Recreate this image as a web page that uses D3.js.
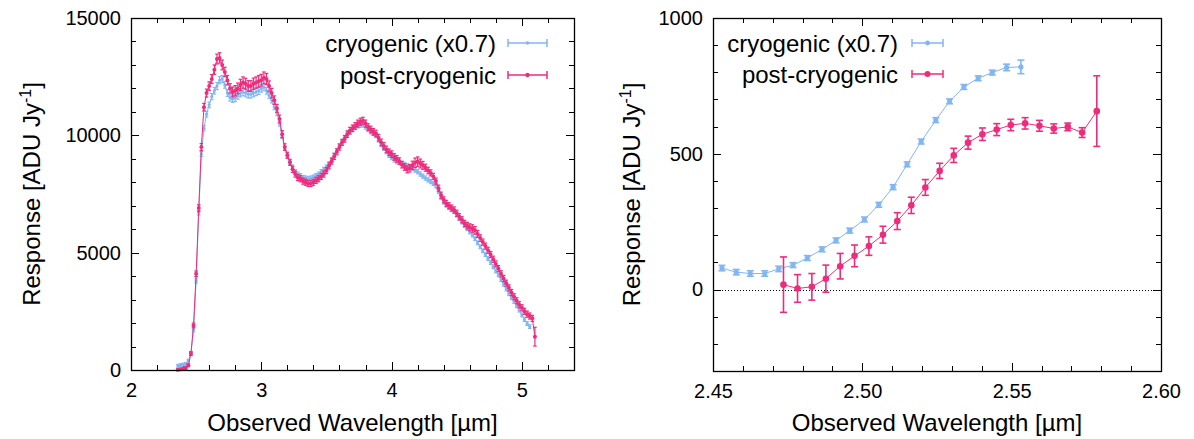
<!DOCTYPE html>
<html><head><meta charset="utf-8">
<script src="https://cdn.jsdelivr.net/npm/d3@7"></script>
<style>
html,body{margin:0;padding:0;background:#fff;}
svg{display:block;font-family:"Liberation Sans",Arial,Helvetica,sans-serif;}
</style></head>
<body>
<svg id="chart" width="1194" height="439"></svg>
<script>
// ---------------- DATA ----------------
const seriesNames = ["cryogenic (x0.7)", "post-cryogenic"];
const seriesColors = ["#82b6f2", "#ee2c7c"];

// Left panel: wavelength grid (µm)
const leftWavelength = [
 2.36,2.38,2.40,2.42,2.44,2.46,2.48,2.50,2.52,2.54,
 2.56,2.58,2.60,2.62,2.64,2.66,2.68,2.70,2.72,2.74,
 2.76,2.78,2.80,2.82,2.84,2.86,2.88,2.90,2.92,2.94,
 2.96,2.98,3.00,3.02,3.04,3.06,3.08,3.10,3.12,3.14,
 3.16,3.18,3.20,3.22,3.24,3.26,3.28,3.30,3.32,3.34,
 3.36,3.38,3.40,3.42,3.44,3.46,3.48,3.50,3.52,3.54,
 3.56,3.58,3.60,3.62,3.64,3.66,3.68,3.70,3.72,3.74,
 3.76,3.78,3.80,3.82,3.84,3.86,3.88,3.90,3.92,3.94,
 3.96,3.98,4.00,4.02,4.04,4.06,4.08,4.10,4.12,4.14,
 4.16,4.18,4.20,4.22,4.24,4.26,4.28,4.30,4.32,4.34,
 4.36,4.38,4.40,4.42,4.44,4.46,4.48,4.50,4.52,4.54,
 4.56,4.58,4.60,4.62,4.64,4.66,4.68,4.70,4.72,4.74,
 4.76,4.78,4.80,4.82,4.84,4.86,4.88,4.90,4.92,4.94,
 4.96,4.98,5.00,5.02,5.04,5.06,5.08,5.10
];
// cryogenic (x0.7), left panel (first 136 wavelengths)
const leftCryoResponse = [
 180,210,230,260,400,700,1700,3800,6700,9200,
 10300,10900,11300,11650,11900,12100,12350,12400,12150,11800,
 11600,11550,11600,11700,11800,11850,11800,11750,11750,11800,
 11850,11900,12000,12050,11900,11700,11500,11200,10950,10500,
 9950,9450,9150,8850,8650,8450,8350,8280,8200,8180,
 8150,8180,8220,8280,8350,8450,8550,8650,8780,8950,
 9150,9350,9550,9700,9850,10050,10150,10250,10330,10400,
 10430,10440,10350,10250,10150,10080,10000,9800,9600,9450,
 9300,9150,9050,8950,8880,8850,8800,8760,8700,8650,
 8600,8520,8450,8350,8260,8180,8100,8030,7950,7850,
 7600,7350,7150,7020,6920,6850,6750,6600,6450,6300,
 6150,6020,5880,5750,5600,5420,5250,5080,4920,4750,
 4580,4400,4220,4050,3850,3650,3450,3250,3080,2920,
 2740,2550,2350,2150,1980,1850
];
const leftCryoError = [
 60,60,60,60,60,70,80,90,100,100,
 110,120,120,130,140,150,150,150,140,140,
 140,150,160,160,160,160,160,160,160,160,
 160,160,160,150,140,130,120,110,100,100,
 90,90,90,90,90,90,90,90,90,90,
 90,90,90,90,90,90,90,90,90,90,
 90,90,90,90,90,90,90,90,90,90,
 90,90,90,90,90,90,90,90,90,90,
 90,90,90,90,90,90,90,90,90,90,
 90,90,90,90,90,90,90,90,90,90,
 80,80,80,80,80,80,80,80,80,80,
 80,80,80,80,80,80,80,80,80,80,
 80,80,80,80,80,80,80,80,80,80,
 80,80,80,80,80,80
];
// post-cryogenic, left panel (all 138 wavelengths)
const leftPostResponse = [
 10,30,55,80,200,700,1900,4100,6900,9500,
 11200,11800,12100,12400,12800,13250,13300,13000,12700,12350,
 12000,11850,11900,12000,12150,12250,12200,12100,12100,12200,
 12250,12300,12350,12450,12400,12100,11800,11500,11150,10700,
 10050,9500,9150,8850,8550,8350,8200,8150,8050,8000,
 7950,7950,8000,8080,8150,8250,8350,8500,8700,8900,
 9100,9300,9500,9700,9850,10050,10200,10300,10400,10500,
 10580,10620,10500,10350,10250,10150,10080,9900,9700,9550,
 9400,9280,9200,9080,9000,8900,8750,8650,8550,8600,
 8720,8830,8880,8800,8720,8620,8500,8400,8250,8050,
 7750,7450,7250,7100,7000,6900,6820,6680,6530,6400,
 6250,6150,6080,6030,5950,5800,5620,5450,5280,5100,
 4920,4720,4520,4320,4100,3900,3700,3500,3300,3120,
 2950,2780,2650,2500,2380,2300,2200,1420
];
const leftPostError = [
 40,40,40,50,60,80,100,120,140,150,
 160,170,180,190,200,210,220,210,200,200,
 200,210,220,230,240,240,230,230,230,240,
 240,250,250,250,240,220,200,180,170,160,
 150,140,130,130,130,130,130,130,130,130,
 130,130,130,130,130,130,130,130,130,130,
 130,130,130,130,140,140,140,140,140,150,
 150,150,150,140,140,140,140,140,140,140,
 140,140,140,140,140,140,140,140,150,160,
 180,200,200,190,170,150,140,130,130,130,
 130,130,130,130,130,130,130,130,130,130,
 130,140,150,160,160,150,140,130,130,130,
 130,130,130,130,130,130,130,130,130,130,
 130,130,130,130,130,130,130,400
];

// Right panel
const rightCryoWavelength = [
 2.4530,2.4578,2.4625,2.4673,2.4720,2.4768,2.4816,2.4865,2.4912,2.4958,
 2.5007,2.5055,2.5103,2.5150,2.5197,2.5246,2.5292,2.5340,2.5388,2.5435,
 2.5483,2.5531
];
const rightCryoResponse = [
 79,64,59,59,76,90,116,148,181,217,
 258,312,377,461,545,624,693,746,778,799,
 818,820
];
const rightCryoError = [
 10,10,10,10,10,9,9,9,9,9,
 9,9,9,9,9,9,9,9,9,9,
 12,25
];
const rightPostWavelength = [
 2.4736,2.4783,2.4831,2.4878,2.4926,2.4974,2.5022,2.5069,2.5117,2.5164,
 2.5211,2.5259,2.5306,2.5354,2.5402,2.5450,2.5497,2.5545,2.5593,2.5641,
 2.5688,2.5736,2.5785
];
const rightPostResponse = [
 18,4,10,40,86,124,160,202,252,310,
 376,437,494,541,572,589,606,612,603,593,
 599,578,657
];
const rightPostError = [
 102,51,49,50,47,40,34,31,31,30,
 29,28,26,24,23,22,21,21,20,17,
 14,18,130
];

// Axis ticks
const leftXTicks = [2, 3, 4, 5];
const leftYTicks = [0, 5000, 10000, 15000];
const rightXTicks = [2.45, 2.50, 2.55, 2.60];
const rightYTicks = [0, 500, 1000];
const xTitle = "Observed Wavelength [µm]";

// ---------------- DRAW ----------------
const svg = d3.select("#chart");
const TICKFONT = 20, TITLEFONT = 24;

function panel(cfg) {
  const g = svg.append("g");
  const x = d3.scaleLinear().domain(cfg.xDomain).range([cfg.left, cfg.right]);
  const y = d3.scaleLinear().domain(cfg.yDomain).range([cfg.bottom, cfg.top]);

  const xMinor = d3.range(Math.round((cfg.xDomain[1]-cfg.xDomain[0])/cfg.xMinorStep)+1)
      .map(i => cfg.xDomain[0] + i*cfg.xMinorStep);
  const yMinor = d3.range(Math.round((cfg.yDomain[1]-cfg.yDomain[0])/cfg.yMinorStep)+1)
      .map(i => cfg.yDomain[0] + i*cfg.yMinorStep);
  const isMajor = (v, arr) => arr.some(t => Math.abs(t - v) < 1e-9);
  const tk = g.append("g").attr("stroke", "#000").attr("stroke-width", 1);
  xMinor.forEach(v => {
    const L = isMajor(v, cfg.xTicks) ? 8 : 5;
    const px = Math.round(x(v)) + 0.5;
    tk.append("line").attr("x1", px).attr("x2", px).attr("y1", cfg.bottom).attr("y2", cfg.bottom - L);
    tk.append("line").attr("x1", px).attr("x2", px).attr("y1", cfg.top).attr("y2", cfg.top + L);
  });
  yMinor.forEach(v => {
    const L = isMajor(v, cfg.yTicks) ? 8 : 5;
    const py = Math.round(y(v)) + 0.5;
    tk.append("line").attr("x1", cfg.left).attr("x2", cfg.left + L).attr("y1", py).attr("y2", py);
    tk.append("line").attr("x1", cfg.right).attr("x2", cfg.right - L).attr("y1", py).attr("y2", py);
  });

  const xAxis = g.append("g").attr("transform", `translate(0,${cfg.bottom})`)
    .call(d3.axisBottom(x).tickValues(cfg.xTicks).tickFormat(cfg.xFormat).tickSize(0).tickPadding(13));
  const yAxis = g.append("g").attr("transform", `translate(${cfg.left},0)`)
    .call(d3.axisLeft(y).tickValues(cfg.yTicks).tickFormat(d3.format("d")).tickSize(0).tickPadding(10));
  [xAxis, yAxis].forEach(a => {
    a.select(".domain").remove();
    a.selectAll("text").attr("font-size", TICKFONT).attr("fill", "#000")
      .attr("font-family", '"Liberation Sans",Arial,sans-serif');
  });

  if (cfg.zeroLine) {
    g.append("line").attr("x1", cfg.left).attr("x2", cfg.right)
      .attr("y1", Math.round(y(0)) + 0.5).attr("y2", Math.round(y(0)) + 0.5)
      .attr("stroke", "#000").attr("stroke-width", 1).attr("stroke-dasharray", "1,2");
  }

  cfg.series.forEach((s, si) => {
    const pts = s.wl.map((w, i) => ({w, v: s.val[i], e: s.err[i]}));
    const sg = g.append("g");
    sg.append("path").datum(pts)
      .attr("d", d3.line().x(d => x(d.w)).y(d => y(d.v)))
      .attr("fill", "none").attr("stroke", s.color).attr("stroke-width", 1);
    const eb = sg.append("g").attr("stroke", s.color).attr("stroke-width", s.ebWidth);
    pts.forEach(d => {
      const cx = x(d.w), y1 = y(d.v - d.e), y2 = y(d.v + d.e);
      eb.append("line").attr("x1", cx).attr("x2", cx).attr("y1", y1).attr("y2", y2);
      eb.append("line").attr("x1", cx - s.cap).attr("x2", cx + s.cap).attr("y1", y1).attr("y2", y1);
      eb.append("line").attr("x1", cx - s.cap).attr("x2", cx + s.cap).attr("y1", y2).attr("y2", y2);
    });
    sg.selectAll("circle").data(pts).join("circle")
      .attr("cx", d => x(d.w)).attr("cy", d => y(d.v)).attr("r", s.r)
      .attr("fill", s.color);
  });

  cfg.series.forEach((s, si) => {
    const ly = cfg.legendY[si];
    g.append("text").attr("x", cfg.legendTextX).attr("y", ly)
      .attr("text-anchor", "end").attr("dominant-baseline", "central")
      .attr("font-size", TITLEFONT).attr("fill", "#000").text(s.name);
    const lg = g.append("g").attr("stroke", s.color).attr("stroke-width", 1.5);
    const [a, b] = cfg.legendSample;
    lg.append("line").attr("x1", a).attr("x2", b).attr("y1", ly).attr("y2", ly);
    lg.append("line").attr("x1", a).attr("x2", a).attr("y1", ly - 4).attr("y2", ly + 4);
    lg.append("line").attr("x1", b).attr("x2", b).attr("y1", ly - 4).attr("y2", ly + 4);
    g.append("circle").attr("cx", (a + b) / 2).attr("cy", ly).attr("r", s.legendR).attr("fill", s.color);
  });

  g.append("rect").attr("x", cfg.left + 0.5).attr("y", cfg.top + 0.5)
    .attr("width", cfg.right - cfg.left).attr("height", cfg.bottom - cfg.top)
    .attr("fill", "none").attr("stroke", "#000").attr("stroke-width", 1.3);

  g.append("text").attr("x", (cfg.left + cfg.right) / 2).attr("y", 431)
    .attr("text-anchor", "middle").attr("font-size", TITLEFONT).attr("fill", "#000").text(xTitle);
  const yl = g.append("text")
    .attr("transform", `translate(${cfg.yLabelX},${(cfg.top + cfg.bottom) / 2}) rotate(-90)`)
    .attr("text-anchor", "middle").attr("font-size", TITLEFONT).attr("fill", "#000");
  yl.append("tspan").text("Response [ADU Jy");
  yl.append("tspan").attr("font-size", 16).attr("dy", -9).text("-1");
  yl.append("tspan").attr("dy", 9).text("]");
}

panel({
  left: 131, right: 574, top: 18, bottom: 370,
  xDomain: [2, 5.4], yDomain: [0, 15000],
  xMinorStep: 0.2, yMinorStep: 1000,
  xTicks: leftXTicks, yTicks: leftYTicks, xFormat: d3.format("d"),
  yLabelX: 40, zeroLine: false,
  legendTextX: 496, legendY: [43, 75], legendSample: [508, 547],
  series: [
    {name: seriesNames[0], color: seriesColors[0], wl: leftWavelength.slice(0, leftCryoResponse.length),
     val: leftCryoResponse, err: leftCryoError, r: 1.6, cap: 1.8, ebWidth: 1.1, legendR: 1.8},
    {name: seriesNames[1], color: seriesColors[1], wl: leftWavelength,
     val: leftPostResponse, err: leftPostError, r: 2.0, cap: 1.8, ebWidth: 1.2, legendR: 2.2}
  ]
});

panel({
  left: 713, right: 1161, top: 18, bottom: 371,
  xDomain: [2.45, 2.60], yDomain: [-300, 1000],
  xMinorStep: 0.01, yMinorStep: 100,
  xTicks: rightXTicks, yTicks: rightYTicks, xFormat: d3.format(".2f"),
  yLabelX: 640, zeroLine: true,
  legendTextX: 898, legendY: [43, 74], legendSample: [912, 943],
  series: [
    {name: seriesNames[0], color: seriesColors[0], wl: rightCryoWavelength,
     val: rightCryoResponse, err: rightCryoError, r: 2.6, cap: 3.5, ebWidth: 1.6, legendR: 2.4},
    {name: seriesNames[1], color: seriesColors[1], wl: rightPostWavelength,
     val: rightPostResponse, err: rightPostError, r: 3.3, cap: 3.5, ebWidth: 1.6, legendR: 3}
  ]
});
</script>
</body></html>
